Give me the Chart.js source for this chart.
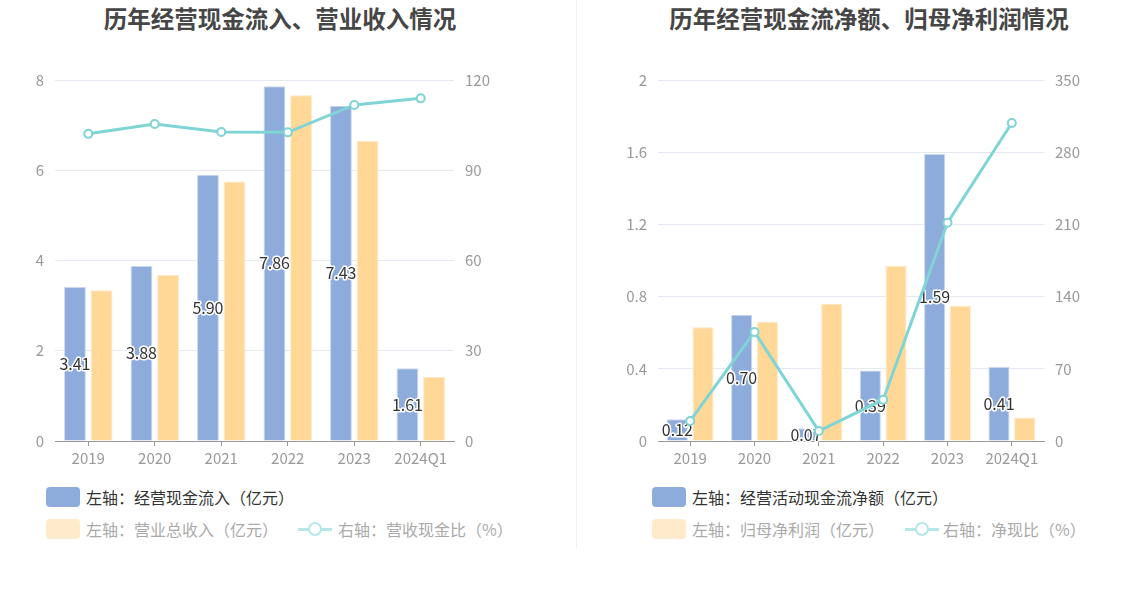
<!DOCTYPE html>
<html>
<head>
<meta charset="utf-8">
<script src="https://cdn.jsdelivr.net/npm/chart.js@4.4.1/dist/chart.umd.min.js"></script>
<style>
  body { margin: 0; background: #fff; font-family: "Noto Sans CJK SC", "Noto Sans", sans-serif; }
  .panel { position: absolute; top: 0; height: 589px; }
  .title { position: absolute; top: 1px; left: 0; right: 0; text-align: center; font-size: 23.5px; font-weight: bold; color: #464646; }
  .box { position: absolute; top: 60px; }
  .divider { position: absolute; left: 576px; top: 0; width: 1px; height: 548px; background: #f0f0f0; }
  .leg { position: absolute; font-size: 16px; line-height: 20px; white-space: nowrap; }
  .sw { position: absolute; width: 34px; height: 20px; border-radius: 4px; }
  .ln { position: absolute; width: 34px; height: 20px; }
  .ln::before { content: ""; position: absolute; left: 0; right: 0; top: 9px; height: 3px; background: #b6e7e8; }
  .ln::after { content: ""; position: absolute; left: 10px; top: 3px; width: 10px; height: 10px; border: 2px solid #b6e7e8; border-radius: 50%; background: #fff; }
</style>
</head>
<body>
<div class="divider"></div>

<div class="panel" style="left:0;width:576px;">
  <div class="title" style="left:-16px;">历年经营现金流入、营业收入情况</div>
  <div class="box" style="left:0;width:576px;height:411px;"><canvas id="c1"></canvas></div>
  <div class="sw" style="left:46px;top:487px;background:#8eacdb;"></div>
  <div class="leg" style="left:86px;top:487px;color:#333;">左轴：经营现金流入（亿元）</div>
  <div class="sw" style="left:46px;top:519px;background:#ffebcb;"></div>
  <div class="leg" style="left:86px;top:519px;color:#aaa;">左轴：营业总收入（亿元）</div>
  <div class="ln" style="left:298px;top:519px;"></div>
  <div class="leg" style="left:338px;top:519px;color:#aaa;">右轴：营收现金比（%）</div>
</div>

<div class="panel" style="left:576px;width:572px;">
  <div class="title" style="left:14px;">历年经营现金流净额、归母净利润情况</div>
  <div class="box" style="left:0;width:572px;height:411px;"><canvas id="c2"></canvas></div>
  <div class="sw" style="left:76px;top:487px;background:#8eacdb;"></div>
  <div class="leg" style="left:116px;top:487px;color:#333;">左轴：经营活动现金流净额（亿元）</div>
  <div class="sw" style="left:76px;top:519px;background:#ffebcb;"></div>
  <div class="leg" style="left:116px;top:519px;color:#aaa;">左轴：归母净利润（亿元）</div>
  <div class="ln" style="left:329px;top:519px;"></div>
  <div class="leg" style="left:367px;top:519px;color:#aaa;">右轴：净现比（%）</div>
</div>

<script>
const years = ["2019", "2020", "2021", "2022", "2023", "2024Q1"];

// 左图
const cashInflow = [3.41, 3.88, 5.90, 7.86, 7.43, 1.61];
const revenue = [3.34, 3.68, 5.75, 7.66, 6.65, 1.42];
const cashRevenueRatio = [102.1, 105.4, 102.7, 102.6, 111.7, 113.9];
const leftTicks1 = [0, 2, 4, 6, 8];
const rightTicks1 = [0, 30, 60, 90, 120];

// 右图
const netCashFlow = [0.12, 0.70, 0.07, 0.39, 1.59, 0.41];
const netProfit = [0.63, 0.66, 0.76, 0.97, 0.75, 0.13];
const netCashRatio = [19.4, 105.7, 9.7, 40.1, 211.7, 308.3];
const leftTicks2 = [0, 0.4, 0.8, 1.2, 1.6, 2];
const rightTicks2 = [0, 70, 140, 210, 280, 350];

const BLUE = "#8eacdb";
const ORANGE = "#ffd898";
const TEAL = "#7fd4d5";
const TICK_FONT = { family: "'Noto Sans CJK SC', sans-serif", size: 15 };

// 柱子中间的数值标签（画在折线之前）
const barLabels = {
  id: "barLabels",
  afterDatasetDraw(chart, args) {
    if (args.index !== 0) return;
    const ctx = chart.ctx;
    ctx.save();
    ctx.font = "16px 'Noto Sans CJK SC', sans-serif";
    ctx.textAlign = "center";
    ctx.textBaseline = "middle";
    ctx.lineJoin = "round";
    args.meta.data.forEach((bar, i) => {
      const txt = chart.data.datasets[0].data[i].toFixed(2);
      const y = (bar.y + bar.base) / 2;
      ctx.strokeStyle = "#fff";
      ctx.lineWidth = 3;
      ctx.strokeText(txt, bar.x, y);
      ctx.fillStyle = "#333";
      ctx.fillText(txt, bar.x, y);
    });
    ctx.restore();
  },
};

function makeChart(id, bars1, bars2, line, lTicks, rTicks, pad) {
  return new Chart(document.getElementById(id), {
    type: "bar",
    data: {
      labels: years,
      datasets: [
        {
          data: bars1,
          backgroundColor: BLUE,
          borderColor: "#c9d7ef",
          borderWidth: 1,
          yAxisID: "y",
          order: 1,
          barPercentage: 0.82,
          categoryPercentage: 0.8,
        },
        {
          data: bars2,
          backgroundColor: ORANGE,
          borderColor: "#ffe9c4",
          borderWidth: 1,
          yAxisID: "y",
          order: 2,
          barPercentage: 0.82,
          categoryPercentage: 0.8,
        },
        {
          type: "line",
          data: line,
          borderColor: TEAL,
          borderWidth: 3,
          pointRadius: 4,
          pointBorderWidth: 2,
          pointBackgroundColor: "#fff",
          pointBorderColor: TEAL,
          yAxisID: "y1",
          order: 0,
          tension: 0,
        },
      ],
    },
    options: {
      responsive: true,
      maintainAspectRatio: false,
      animation: false,
      layout: { padding: pad },
      plugins: { legend: { display: false }, tooltip: { enabled: false } },
      scales: {
        x: {
          grid: { display: true, drawOnChartArea: false, offset: false, tickLength: 5, color: "#999" },
          border: { color: "#999" },
          ticks: { color: "#999", font: TICK_FONT, padding: 3 },
          afterFit: (s) => { s.height = 30; },
        },
        y: {
          position: "left",
          min: lTicks[0],
          max: lTicks[lTicks.length - 1],
          afterBuildTicks: (s) => { s.ticks = lTicks.map((v) => ({ value: v })); },
          grid: { color: "#e6e9f4", drawTicks: false },
          border: { display: false },
          ticks: { color: "#999", font: TICK_FONT, padding: 11, callback: (v) => String(v) },
          afterFit: (s) => { s.width = 50; },
        },
        y1: {
          position: "right",
          min: rTicks[0],
          max: rTicks[rTicks.length - 1],
          afterBuildTicks: (s) => { s.ticks = rTicks.map((v) => ({ value: v })); },
          grid: { display: false, drawTicks: false },
          border: { display: false },
          ticks: { color: "#999", font: TICK_FONT, padding: 11, callback: (v) => String(v) },
          afterFit: (s) => { s.width = 50; },
        },
      },
    },
    plugins: [barLabels],
  });
}

makeChart("c1", cashInflow, revenue, cashRevenueRatio, leftTicks1, rightTicks1,
  { left: 5, right: 72, top: 20, bottom: 0 });
makeChart("c2", netCashFlow, netProfit, netCashRatio, leftTicks2, rightTicks2,
  { left: 32, right: 54, top: 20, bottom: 0 });
</script>
</body>
</html>
